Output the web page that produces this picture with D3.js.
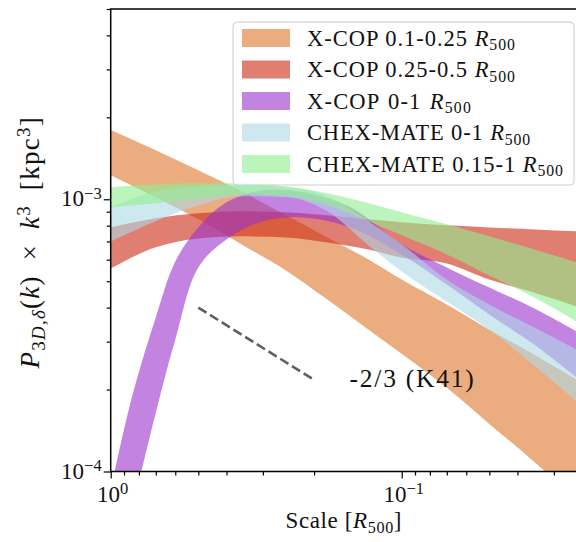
<!DOCTYPE html>
<html><head><meta charset="utf-8">
<script src="https://cdn.jsdelivr.net/npm/d3@7"></script>
<style>body{margin:0;background:#fff}svg{display:block}text{font-family:'Liberation Serif','DejaVu Serif',serif}</style>
</head><body>
<script>
// ---- data ----
const scales = [1, 0.7, 0.5, 0.35, 0.25, 0.18, 0.13, 0.1, 0.07, 0.05, 0.035, 0.025];
const xcop1Low  = [12.26, 10.17, 8.44, 6.77, 5.48, 4.28, 3.32, 2.709, 2.03, 1.496, 1.084, 0.785];
const xcop1High = [17.95, 15.15, 12.79, 10.61, 8.73, 7.24, 6.01, 5.07, 4.105, 3.32, 2.686, 2.173];
const xcop2Low  = [5.57, 6.66, 7.18, 7.31, 7.24, 6.94, 6.54, 6.11, 5.81, 5.07, 4.54, 4.04];
const xcop2High = [7.88, 8.51, 8.88, 9.03, 8.96, 8.73, 8.44, 8.23, 8.02, 7.88, 7.75, 7.62];
const chexAllLow  = [7.00, 8.30, 9.50, 10.26, 10.17, 9.03, 6.77, 5.43, 4.21, 3.32, 2.446, 1.803];
const chexAllHigh = [9.34, 10.70, 11.16, 11.26, 11.07, 10.26, 8.30, 6.83, 5.07, 4.105, 3.38, 2.80];
const chexOutLow  = [9.34, 9.67, 10.09, 10.43, 10.26, 9.50, 8.30, 7.37, 6.27, 5.25, 4.36, 3.55];
const chexOutHigh = [11.07, 11.36, 11.45, 11.45, 11.16, 10.52, 9.67, 8.96, 8.09, 7.31, 6.54, 5.86];
const scalesAll = [1, 0.85, 0.7, 0.6, 0.5, 0.4, 0.3, 0.22, 0.15, 0.1, 0.07, 0.05, 0.035, 0.025];
const xcopAllLow  = [0.376, 0.710, 1.643, 3.05, 5.62, 7.12, 8.30, 8.58, 7.88, 6.27, 4.86, 3.77, 2.92, 2.21];
const xcopAllHigh = [0.855, 1.834, 3.68, 5.91, 7.88, 9.75, 10.79, 10.61, 9.34, 6.83, 5.62, 4.74, 3.97, 3.265];
const valueUnit = 1e-4;  // values above are in units of 1e-4 kpc^3
const k41Scales = [0.5, 0.2];
const k41Values = [4.0e-4, 2.17e-4];
const xTicks = [1, 0.1];
const yTicks = [1e-4, 1e-3];
const labels = ["X-COP 0.1-0.25", "X-COP 0.25-0.5", "X-COP 0-1", "CHEX-MATE 0-1", "CHEX-MATE 0.15-1"];

// ---- layout ----
const W = 576, H = 542;
const L = 110.7, R = 576.9, T = 9, B = 471.5;
const FONT = "'Liberation Serif', 'DejaVu Serif', serif";
const colors = ["rgb(222,117,43)", "rgb(205,40,20)", "darkorchid", "lightblue", "lightgreen"];
const alpha = 0.6;

const svg = d3.select("body").append("svg").attr("width", W).attr("height", H);

const x = d3.scaleLog().domain([1, 0.025]).range([L, R]);
const y = d3.scaleLog().domain([1e-4, 5e-3]).range([B, T]);

svg.append("clipPath").attr("id", "clip").append("rect")
  .attr("x", L).attr("y", T).attr("width", R - L).attr("height", B - T);

const plot = svg.append("g").attr("clip-path", "url(#clip)");

const bands = [
  {s: scales, lo: xcop1Low, hi: xcop1High, c: d3.curveMonotoneX},
  {s: scales, lo: xcop2Low, hi: xcop2High, c: d3.curveMonotoneX},
  {s: scalesAll, lo: xcopAllLow, hi: xcopAllHigh, c: d3.curveCatmullRom.alpha(0.5)},
  {s: scales, lo: chexAllLow, hi: chexAllHigh, c: d3.curveMonotoneX},
  {s: scales, lo: chexOutLow, hi: chexOutHigh, c: d3.curveMonotoneX}
];

bands.forEach((b, i) => {
  const data = b.s.map((s, j) => ({s, lo: b.lo[j] * valueUnit, hi: b.hi[j] * valueUnit}));
  const area = d3.area().x(d => x(d.s)).y0(d => y(d.lo)).y1(d => y(d.hi)).curve(b.c);
  plot.append("path").datum(data).attr("d", area)
    .attr("fill", colors[i]).attr("fill-opacity", alpha).attr("stroke", "none");
});

// K41 slope line
plot.append("path")
  .datum(k41Scales.map((s, i) => [s, k41Values[i]]))
  .attr("d", d3.line().x(d => x(d[0])).y(d => y(d[1])))
  .attr("stroke", "#5f5f5f").attr("stroke-width", 2.6)
  .attr("stroke-dasharray", "9.6,4.2").attr("fill", "none");

// widen Times-like glyph runs to the wider Computer Modern extent of the reference
function fitWidth(t, target, maxLs) {
  const str = t.text();
  const n = str.length;
  let len = t.node().getComputedTextLength();
  if (len >= target) return;
  let ls = Math.min((target - len) / (n - 1), maxLs === undefined ? 99 : maxLs);
  t.attr("letter-spacing", ls.toFixed(2));
  len = t.node().getComputedTextLength();
  const ns = (str.match(/ /g) || []).length;
  if (len < target - 1 && ns > 0) t.attr("word-spacing", Math.min(6, (target - len) / ns).toFixed(2));
}

const k41 = svg.append("text").attr("x", x(0.151)).attr("y", y(2.05e-4))
  .attr("font-family", FONT).attr("font-size", 25.5).attr("fill", "#111").text("-2/3 (K41)");
fitWidth(k41, 124);

// ---- axes ----
function supLabel(sel, exp) {
  sel.text("");
  sel.append("tspan").text("10");
  sel.append("tspan").attr("dy", "-0.45em").attr("font-size", "0.72em").text(exp);
}

const xAxis = d3.axisBottom(x).tickValues(xTicks).tickSize(7).tickFormat(() => "");
const xMinor = d3.axisBottom(x)
  .tickValues(d3.range(2, 10).map(d => d / 10).concat(d3.range(3, 10).map(d => d / 100)))
  .tickSize(4).tickFormat(() => "");
const yAxis = d3.axisLeft(y).tickValues(yTicks).tickSize(7).tickFormat(() => "");
const yMinor = d3.axisLeft(y)
  .tickValues(d3.range(2, 10).map(d => d * 1e-4).concat(d3.range(2, 6).map(d => d * 1e-3)))
  .tickSize(4).tickFormat(() => "");

[[xAxis, "x"], [xMinor, "x"], [yAxis, "y"], [yMinor, "y"]].forEach(([ax, k]) => {
  const g = svg.append("g").attr("transform", k === "x" ? `translate(0,${B})` : `translate(${L},0)`).call(ax);
  g.select(".domain").remove();
  g.selectAll("line").attr("stroke", "#000").attr("stroke-width", 1.2);
});

// spines
svg.append("line").attr("x1", L).attr("x2", L).attr("y1", T).attr("y2", B).attr("stroke", "#000").attr("stroke-width", 1.5);
svg.append("line").attr("x1", L - 0.75).attr("x2", R + 2).attr("y1", B).attr("y2", B).attr("stroke", "#000").attr("stroke-width", 1.5);
svg.append("line").attr("x1", L - 0.75).attr("x2", R + 2).attr("y1", T).attr("y2", T).attr("stroke", "#000").attr("stroke-width", 1.5);

// tick labels
xTicks.forEach((t, i) => {
  const tx = svg.append("text").attr("x", x(t) + 2).attr("y", B + 30).attr("text-anchor", "middle")
    .attr("font-family", FONT).attr("font-size", 23).attr("fill", "#111");
  supLabel(tx, i === 0 ? "0" : "\u22121");
});
yTicks.forEach((t, i) => {
  const ty = svg.append("text").attr("x", L - 9).attr("y", y(t) + 7).attr("text-anchor", "end")
    .attr("font-family", FONT).attr("font-size", 23).attr("fill", "#111");
  supLabel(ty, i === 0 ? "\u22124" : "\u22123");
});

// axis labels
const xl = svg.append("text").attr("x", (L + R) / 2).attr("y", 528).attr("text-anchor", "middle")
  .attr("font-family", FONT).attr("font-size", 23).attr("fill", "#111");
xl.append("tspan").text("Scale [");
xl.append("tspan").attr("font-style", "italic").text("R");
xl.append("tspan").attr("font-size", "0.7em").attr("dy", "0.3em").text("500");
xl.append("tspan").attr("dy", "-0.21em").text("]");
fitWidth(xl, 116, 1);

const yl = svg.append("text").attr("transform", `translate(39,${(T + B) / 2 + 2}) rotate(-90)`)
  .attr("text-anchor", "middle").attr("font-family", FONT).attr("font-size", 27)
  .attr("letter-spacing", 1.3).attr("fill", "#111");
yl.append("tspan").attr("font-style", "italic").text("P");
yl.append("tspan").attr("font-size", "0.7em").attr("dy", "0.3em").text("3");
yl.append("tspan").attr("font-size", "0.7em").attr("font-style", "italic").text("D,\u03b4");
yl.append("tspan").attr("dy", "-0.21em").text("(");
yl.append("tspan").attr("font-style", "italic").text("k");
yl.append("tspan").text(")\u2002\u00d7\u2002");
yl.append("tspan").attr("font-style", "italic").text("k");
yl.append("tspan").attr("font-size", "0.7em").attr("dy", "-0.5em").text("3");
yl.append("tspan").attr("dy", "0.35em").text("\u2002[kpc");
yl.append("tspan").attr("font-size", "0.7em").attr("dy", "-0.5em").text("3");
yl.append("tspan").attr("dy", "0.35em").text("]");

// legend
const lg = svg.append("g");
lg.append("rect").attr("x", 233).attr("y", 22).attr("width", 341).attr("height", 163)
  .attr("rx", 4).attr("fill", "#fff").attr("fill-opacity", 0.8)
  .attr("stroke", "#cccccc").attr("stroke-width", 1);
const legendWidths = [208, 208, 165, 223, 256];
labels.forEach((lab, i) => {
  const cy = 38 + i * 31.5;
  lg.append("rect").attr("x", 242).attr("y", cy - 9).attr("width", 48).attr("height", 18)
    .attr("fill", colors[i]).attr("fill-opacity", alpha);
  const t = lg.append("text").attr("x", 307).attr("y", cy + 7.5).attr("font-family", FONT)
    .attr("font-size", 22.5).attr("fill", "#111");
  t.append("tspan").text(lab + " ");
  t.append("tspan").attr("font-style", "italic").text("R");
  t.append("tspan").attr("font-size", "0.7em").attr("dy", "0.3em").text("500");
  fitWidth(t, legendWidths[i], 1.2);
});
</script>
</body></html>
